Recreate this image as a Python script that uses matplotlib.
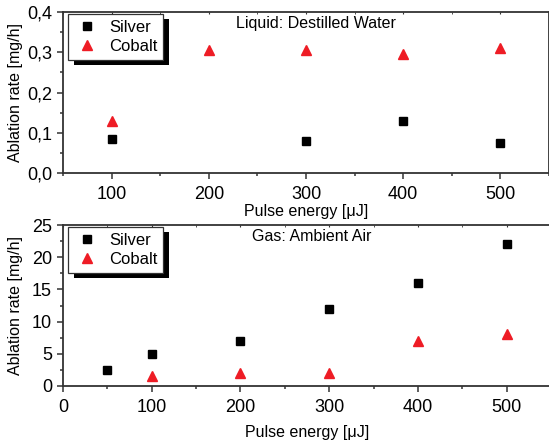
import matplotlib
matplotlib.use("Agg")
import matplotlib.pyplot as plt
from matplotlib.ticker import MultipleLocator, FuncFormatter
from matplotlib.patches import Rectangle

plt.rcParams['font.family'] = ['Liberation Sans', 'DejaVu Sans']

# top panel: liquid (destilled water)
liq_silver_x = [100, 300, 400, 500]
liq_silver_y = [0.085, 0.08, 0.13, 0.075]
liq_cobalt_x = [100, 200, 300, 400, 500]
liq_cobalt_y = [0.13, 0.305, 0.305, 0.295, 0.31]

# bottom panel: gas (ambient air)
gas_silver_x = [50, 100, 200, 300, 400, 500]
gas_silver_y = [2.5, 5, 7, 12, 16, 22]
gas_cobalt_x = [100, 200, 300, 400, 500]
gas_cobalt_y = [1.5, 2, 2, 7, 8]

red = '#ee1c25'
spine_col = '#333333'

fig = plt.figure(figsize=(5.49, 4.41), dpi=100)
ax1 = fig.add_axes([63/549, 1-173/441, 486/549, 161/441])
ax2 = fig.add_axes([63/549, 1-386/441, 488/549, 161/441])


def style(ax):
    for s in ax.spines.values():
        s.set_color(spine_col)
        s.set_linewidth(1.3)
    ax.tick_params(which='both', direction='out', color=spine_col, width=1.1,
                   labelsize=13, top=False, right=False, pad=4)
    ax.tick_params(axis='x', pad=5)
    ax.tick_params(which='major', length=4)
    ax.tick_params(which='minor', length=2.5)
    sec = ax.secondary_xaxis('top')
    sec.tick_params(which='both', direction='in', length=1.5, color=spine_col, labeltop=False)
    sec.set_xticks(ax.get_xticks(minor=False))
    sec.set_xticks(ax.get_xticks(minor=True), minor=True)
    sec.set_xticklabels([])
    sec.spines['top'].set_visible(False)


def shadow_legend(ax, anchor):
    leg = ax.legend(loc='upper left', bbox_to_anchor=anchor, borderaxespad=0,
                    fontsize=12, frameon=True, fancybox=False, framealpha=1,
                    handletextpad=0.5, borderpad=0.35, labelspacing=0.25, handlelength=1.6)
    leg.get_frame().set_edgecolor(spine_col)
    leg.get_frame().set_linewidth(0.9)
    fig.canvas.draw()
    bb = leg.get_window_extent()
    (x0, y0), (x1, y1) = ax.transAxes.inverted().transform([[bb.x0 + 6, bb.y0 - 5],
                                                             [bb.x1 + 6, bb.y1 - 5]])
    ax.add_patch(Rectangle((x0, y0), x1 - x0, y1 - y0, transform=ax.transAxes,
                           facecolor='black', edgecolor='none', zorder=4.5, clip_on=False))


comma = FuncFormatter(lambda v, p: ('%.1f' % v).replace('.', ','))

# top
ax1.plot(liq_silver_x, liq_silver_y, 's', color='black', ms=6, label='Silver')
ax1.plot(liq_cobalt_x, liq_cobalt_y, '^', color=red, ms=7, label='Cobalt')
ax1.set_xlim(50, 550)
ax1.set_ylim(0, 0.4)
ax1.xaxis.set_major_locator(MultipleLocator(100))
ax1.xaxis.set_minor_locator(MultipleLocator(50))
ax1.yaxis.set_major_locator(MultipleLocator(0.1))
ax1.yaxis.set_minor_locator(MultipleLocator(0.05))
ax1.yaxis.set_major_formatter(comma)
style(ax1)
ax1.set_xlabel('Pulse energy [μJ]', fontsize=11.5)
ax1.set_ylabel('Ablation rate [mg/h]', fontsize=11.5)
ax1.xaxis.set_label_coords(0.5, -0.19)
ax1.yaxis.set_label_coords(-0.082, 0.5)
ax1.text(0.356, 0.93, 'Liquid: Destilled Water', transform=ax1.transAxes,
         fontsize=11.5, va='center', ha='left')

# bottom
ax2.plot(gas_silver_x, gas_silver_y, 's', color='black', ms=6, label='Silver')
ax2.plot(gas_cobalt_x, gas_cobalt_y, '^', color=red, ms=7, label='Cobalt')
ax2.set_xlim(0, 550)
ax2.set_ylim(0, 25)
ax2.xaxis.set_major_locator(MultipleLocator(100))
ax2.xaxis.set_minor_locator(MultipleLocator(50))
ax2.yaxis.set_major_locator(MultipleLocator(5))
ax2.yaxis.set_minor_locator(MultipleLocator(2.5))
style(ax2)
ax2.set_xlabel('Pulse energy [μJ]', fontsize=11.5)
ax2.set_ylabel('Ablation rate [mg/h]', fontsize=11.5)
ax2.xaxis.set_label_coords(0.5, -0.24)
ax2.yaxis.set_label_coords(-0.082, 0.5)
ax2.text(0.387, 0.93, 'Gas: Ambient Air', transform=ax2.transAxes,
         fontsize=11.5, va='center', ha='left')

shadow_legend(ax1, (5/486, 1 - 2/161))
shadow_legend(ax2, (5/488, 1 - 2/161))

fig.savefig('out.png', dpi=100)
